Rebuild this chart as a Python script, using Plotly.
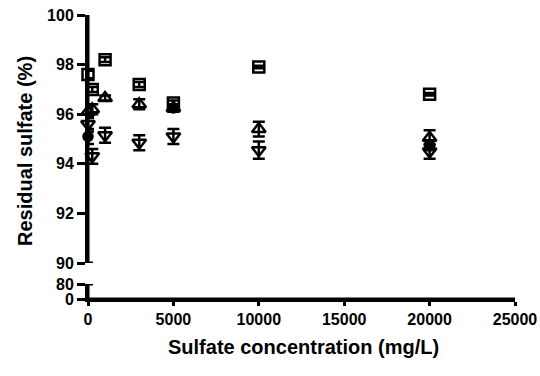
import plotly.graph_objects as go

# ---- data ----
conc = [0, 250, 1000, 3000, 5000, 10000, 20000]
square_vals = [97.6, 97.0, 98.2, 97.2, 96.45, 97.9, 96.8]
square_err = [0.15, 0.1, 0.1, 0.1, 0.1, 0.05, 0.05]
tri_up_vals = [96.1, 96.2, 96.65, 96.4, 96.25, 95.4, 95.05]
tri_up_err = [0.25, 0.2, 0.1, 0.2, 0.15, 0.3, 0.3]
tri_dn_vals = [95.6, 94.3, 95.15, 94.85, 95.1, 94.55, 94.5]
tri_dn_err = [0.3, 0.3, 0.3, 0.3, 0.3, 0.35, 0.3]
circ_conc = [0, 5000, 20000]
circ_vals = [95.1, 96.25, 94.75]
circ_err = [0.3, 0.15, 0.2]

x_ticks = [0, 5000, 10000, 15000, 20000, 25000]
y_top_ticks = [90, 92, 94, 96, 98, 100]
y_bot_ticks = [0, 80]
x_range = [0, 25000]
y_top_range = [90, 100]
y_bot_range = [0, 80]

FONT = "Liberation Sans"
W, H = 540, 376
L, R, T, B = 88, 25, 15, 77
ph = H - T - B
bot_top = 15 / ph
top_bot = 36 / ph

fig = go.Figure()

def add(xv, yv, ev, symbol, size):
    fig.add_trace(go.Scatter(
        x=xv, y=yv, mode="markers", xaxis="x", yaxis="y",
        cliponaxis=False, showlegend=False,
        marker=dict(symbol=symbol, size=size, color="black",
                    line=dict(color="black", width=2.5)),
        error_y=dict(type="data", array=ev, visible=True, color="black",
                     thickness=2.5, width=6),
    ))

add(conc, square_vals, square_err, "square-open", 11)
add(conc, tri_up_vals, tri_up_err, "triangle-up-open", 12)
add(conc, tri_dn_vals, tri_dn_err, "triangle-down-open", 12)
add(circ_conc, circ_vals, circ_err, "circle", 9)
fig.add_trace(go.Scatter(x=[None], y=[None], xaxis="x", yaxis="y2",
                         mode="markers", showlegend=False, hoverinfo="skip"))

tickfont = dict(family=FONT, size=16, color="#000000", weight="bold")
LINE = dict(color="#000000", width=3)

# axis lines and ticks drawn as shapes tied to the axes' scales
shapes = [
    dict(type="line", xref="x", yref="y", x0=x_range[0], x1=x_range[0],
         y0=y_top_range[0], y1=y_top_range[1], line=LINE),
    dict(type="line", xref="x", yref="y2", x0=x_range[0], x1=x_range[0],
         y0=y_bot_range[0], y1=y_bot_range[1], line=LINE),
    dict(type="line", xref="x", yref="y2", x0=x_range[0], x1=x_range[1],
         y0=y_bot_range[0], y1=y_bot_range[0], line=LINE),
]
for v in y_top_ticks:
    right = 5 if v == y_top_range[0] else 0
    shapes.append(dict(type="line", xref="x", yref="y", xsizemode="pixel",
                       xanchor=x_range[0], x0=-8, x1=right, y0=v, y1=v,
                       line=LINE))
for v in y_bot_ticks:
    right = 5 if v == y_bot_range[1] else 0
    shapes.append(dict(type="line", xref="x", yref="y2", xsizemode="pixel",
                       xanchor=x_range[0], x0=-8, x1=right, y0=v, y1=v,
                       line=LINE))
for v in x_ticks:
    shapes.append(dict(type="line", xref="x", yref="y2", ysizemode="pixel",
                       yanchor=y_bot_range[0], y0=-7, y1=0, x0=v, x1=v,
                       line=LINE))

fig.update_layout(
    width=W, height=H,
    margin=dict(l=L, r=R, t=T, b=B, autoexpand=False),
    paper_bgcolor="#ffffff", plot_bgcolor="#ffffff",
    xaxis=dict(range=x_range, tickvals=x_ticks, tickformat="d",
               anchor="y2", automargin=False, ticklen=4),
    yaxis=dict(domain=[top_bot, 1], range=y_top_range, tickvals=y_top_ticks,
               anchor="x", automargin=False, ticklen=8),
    yaxis2=dict(domain=[0, bot_top], range=y_bot_range, tickvals=y_bot_ticks,
                anchor="x", automargin=False, ticklen=8),
    shapes=shapes,
    annotations=[
        dict(text="Sulfate concentration (mg/L)", xref="paper", yref="paper",
             x=(303 - L) / (W - L - R), y=(299 - 347) / ph,
             xanchor="center", yanchor="middle", showarrow=False,
             font=dict(family=FONT, size=20, color="#000000", weight="bold")),
        dict(text="Residual sulfate (%)", xref="paper", yref="paper",
             x=(25 - L) / (W - L - R), y=(299 - 151) / ph, textangle=-90,
             xanchor="center", yanchor="middle", showarrow=False,
             font=dict(family=FONT, size=20, color="#000000", weight="bold")),
    ],
)
fig.update_xaxes(showline=True, linecolor="#000000", linewidth=3,
                 ticks="outside", tickwidth=3, tickcolor="#000000",
                 showgrid=False, zeroline=False, tickfont=tickfont)
fig.update_yaxes(showline=True, linecolor="#000000", linewidth=3,
                 ticks="outside", tickwidth=3, tickcolor="#000000",
                 showgrid=False, zeroline=False, tickfont=tickfont)

fig.write_html("out.html")
